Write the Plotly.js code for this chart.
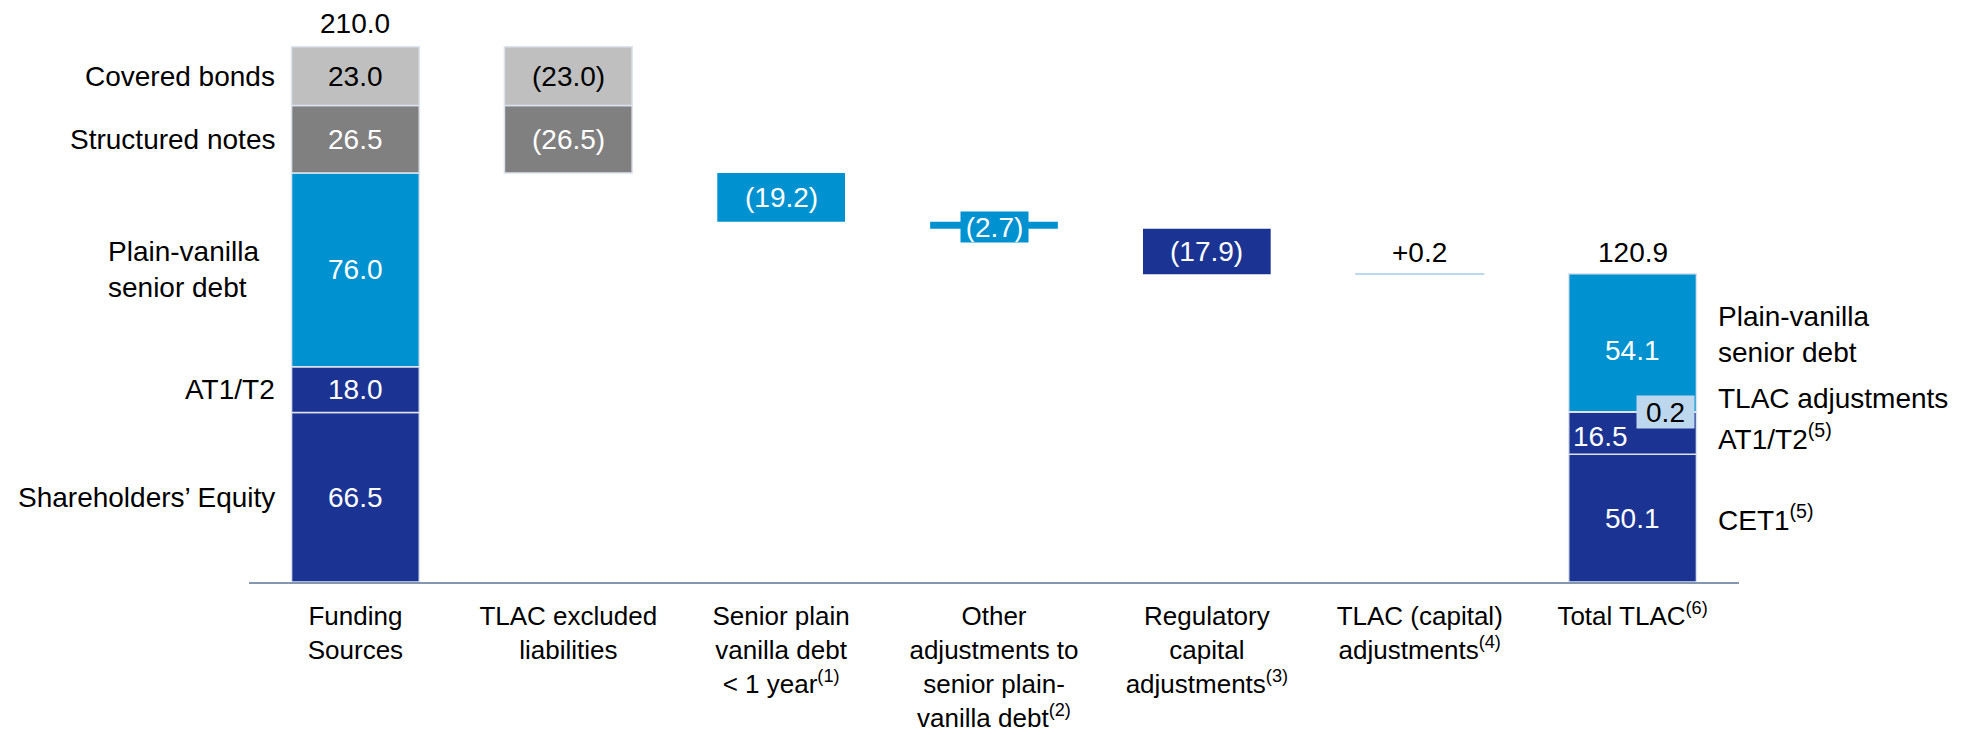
<!DOCTYPE html>
<html>
<head>
<meta charset="utf-8">
<script src="https://cdn.plot.ly/plotly-3.0.1.min.js"></script>
<style>html,body{margin:0;padding:0;background:#fff;}#chart{width:1964px;height:735px;}</style>
</head>
<body>
<div id="chart"></div>
<script>
// ---------------- data ----------------
const categories = [
  "Funding<br>Sources",
  "TLAC excluded<br>liabilities",
  "Senior plain<br>vanilla debt<br>&lt; 1 year<sup>(1)</sup>",
  "Other<br>adjustments to<br>senior plain-<br>vanilla debt<sup>(2)</sup>",
  "Regulatory<br>capital<br>adjustments<sup>(3)</sup>",
  "TLAC (capital)<br>adjustments<sup>(4)</sup>",
  "Total TLAC<sup>(6)</sup>"
];
// stack order bottom -> top
const segmentKeys = ["equity", "at1", "tlacAdj", "pvSenior", "structured", "covered"];
const fundingLabels = ["Shareholders’ Equity", "AT1/T2", "", "Plain-vanilla<br>senior debt", "Structured notes", "Covered bonds"];
const totalLabels = ["CET1<sup>(5)</sup>", "AT1/T2<sup>(5)</sup>", "TLAC adjustments", "Plain-vanilla<br>senior debt", "", ""];
const fundingValues = [66.5, 18.0, 0, 76.0, 26.5, 23.0];
const excludedValues = [0, 0, 0, 0, -26.5, -23.0];
const totalTlacValues = [50.1, 16.5, 0.2, 54.1, 0, 0];
const adjustmentValues = [-19.2, -2.7, -17.9, 0.2];
const fundingTotal = 210.0;
const tlacTotal = 120.9;

// ---------------- styles ----------------
const DARK = "#1B3393", LIGHT = "#0092D0", GREY_D = "#808080", GREY_L = "#BFBFBF", ADJ = "#BDD7EE";
const segColors = [DARK, DARK, ADJ, LIGHT, GREY_D, GREY_L];
const segTextColors = ["#fff", "#fff", "#000", "#fff", "#fff", "#000"];
const adjColors = [LIGHT, LIGHT, DARK, ADJ];
const FONT = "Liberation Sans, Arial, Helvetica, sans-serif";
const FS = 28;
const HALF = 63.9; // half bar width in px (bargap 0.4 on ~213px slots)

function fmt(v){ return v < 0 ? "(" + Math.abs(v).toFixed(1) + ")" : v.toFixed(1); }

// cumulative bases
function bases(vals){ let s = 0; return vals.map(v => { const b = s; s += Math.abs(v); return b; }); }
const fundingBases = bases(fundingValues);
const totalBases = bases(totalTlacValues);

const traces = [];
const annotations = [];

segmentKeys.forEach((k, i) => {
  const xs = [], ys = [], bs = [];
  if (fundingValues[i]) { xs.push(categories[0]); ys.push(fundingValues[i]); bs.push(fundingBases[i]); }
  if (excludedValues[i]) { xs.push(categories[1]); ys.push(Math.abs(excludedValues[i])); bs.push(fundingBases[i]); }
  if (totalTlacValues[i]) { xs.push(categories[6]); ys.push(totalTlacValues[i]); bs.push(totalBases[i]); }
  traces.push({
    type: "bar", x: xs, y: ys, base: bs, name: k,
    marker: { color: segColors[i], line: { color: "#DCE3EE", width: 1.5 } },
    hoverinfo: "skip", showlegend: false
  });
  // value labels
  if (fundingValues[i]) annotations.push({ x: categories[0], y: fundingBases[i] + fundingValues[i] / 2, text: fmt(fundingValues[i]), showarrow: false, font: { color: segTextColors[i] } });
  if (excludedValues[i]) annotations.push({ x: categories[1], y: fundingBases[i] + Math.abs(excludedValues[i]) / 2, text: fmt(excludedValues[i]), showarrow: false, font: { color: segTextColors[i] } });
  if (fundingLabels[i]) {
    const multi = fundingLabels[i].indexOf("<br>") >= 0;
    annotations.push({ x: categories[0], y: fundingBases[i] + fundingValues[i] / 2, text: fundingLabels[i], showarrow: false,
      xanchor: "right", align: multi ? "left" : "right", xshift: multi ? -(HALF + 31) : -(HALF + 15), font: { color: "#000" } });
  }
});

// Total TLAC labels
const tMid = (i) => totalBases[i] + totalTlacValues[i] / 2;
annotations.push({ x: categories[6], y: tMid(0), text: fmt(totalTlacValues[0]), showarrow: false, font: { color: "#fff" } });
annotations.push({ x: categories[6], y: tMid(1), text: fmt(totalTlacValues[1]), showarrow: false, xanchor: "left", xshift: -HALF + 2, yshift: -3, font: { color: "#fff" } });
annotations.push({ x: categories[6], y: tMid(2), text: fmt(totalTlacValues[2]), showarrow: false, xanchor: "right", xshift: HALF - 1,
  bgcolor: ADJ, borderpad: 0, width: 57, height: 32, align: "center", valign: "middle", font: { color: "#000" } });
annotations.push({ x: categories[6], y: tMid(3), text: fmt(totalTlacValues[3]), showarrow: false, yshift: -8, font: { color: "#fff" } });
const rightShift = [0, -4, 14, 8];
[0, 1, 2, 3].forEach(i => {
  annotations.push({ x: categories[6], y: tMid(i), text: totalLabels[i], showarrow: false, xanchor: "left", align: "left",
    xshift: HALF + 20, yshift: rightShift[i], font: { color: "#000" } });
});

// totals on top
annotations.push({ x: categories[0], y: fundingTotal, text: fundingTotal.toFixed(1), showarrow: false, yanchor: "bottom", yshift: 6, font: { color: "#000" } });
annotations.push({ x: categories[6], y: tlacTotal, text: tlacTotal.toFixed(1), showarrow: false, yanchor: "bottom", yshift: 4, font: { color: "#000" } });

// adjustments (waterfall floating bars)
let level = fundingTotal + excludedValues.reduce((a, b) => a + b, 0);
const adjX = [], adjY = [], adjB = [];
adjustmentValues.forEach((v, j) => {
  const cat = categories[2 + j];
  const b = v < 0 ? level + v : level;
  adjX.push(cat); adjY.push(Math.abs(v)); adjB.push(b);
  const small = Math.abs(v) < 5;
  if (v > 0) {
    annotations.push({ x: cat, y: b + Math.abs(v), text: "+" + v.toFixed(1), showarrow: false, yanchor: "bottom", yshift: 4, font: { color: "#000" } });
  } else if (small) {
    annotations.push({ x: cat, y: b + Math.abs(v) / 2, text: fmt(v), showarrow: false, yshift: -2,
      bgcolor: adjColors[j], borderpad: 0, width: 67, height: 30, align: "center", valign: "middle", font: { color: "#fff" } });
  } else {
    annotations.push({ x: cat, y: b + Math.abs(v) / 2, text: fmt(v), showarrow: false, font: { color: "#fff" } });
  }
  level += v;
});
traces.push({
  type: "bar", x: adjX, y: adjY, base: adjB, name: "adjustments",
  marker: { color: adjColors, line: { color: adjColors, width: adjustmentValues.map(v => v > 0 ? 1.5 : 0) } },
  hoverinfo: "skip", showlegend: false
});

const layout = {
  width: 1964, height: 735,
  margin: { l: 249, r: 225, t: 20, b: 153, pad: 0 },
  paper_bgcolor: "#fff", plot_bgcolor: "#fff",
  barmode: "overlay", bargap: 0.4,
  font: { family: FONT, size: FS, color: "#000" },
  xaxis: {
    type: "category", categoryorder: "array", categoryarray: categories,
    range: [-0.5, 6.5], showline: true, linecolor: "#8497B0", linewidth: 2,
    ticks: "", showgrid: false, zeroline: false, ticklabelstandoff: 10,
    tickfont: { family: FONT, size: 26, color: "#000" }, fixedrange: true
  },
  yaxis: { range: [0, 220.5], visible: false, showgrid: false, zeroline: false, fixedrange: true },
  annotations: annotations,
  showlegend: false
};

Plotly.newPlot("chart", traces, layout, { staticPlot: true, displayModeBar: false });
</script>
</body>
</html>
